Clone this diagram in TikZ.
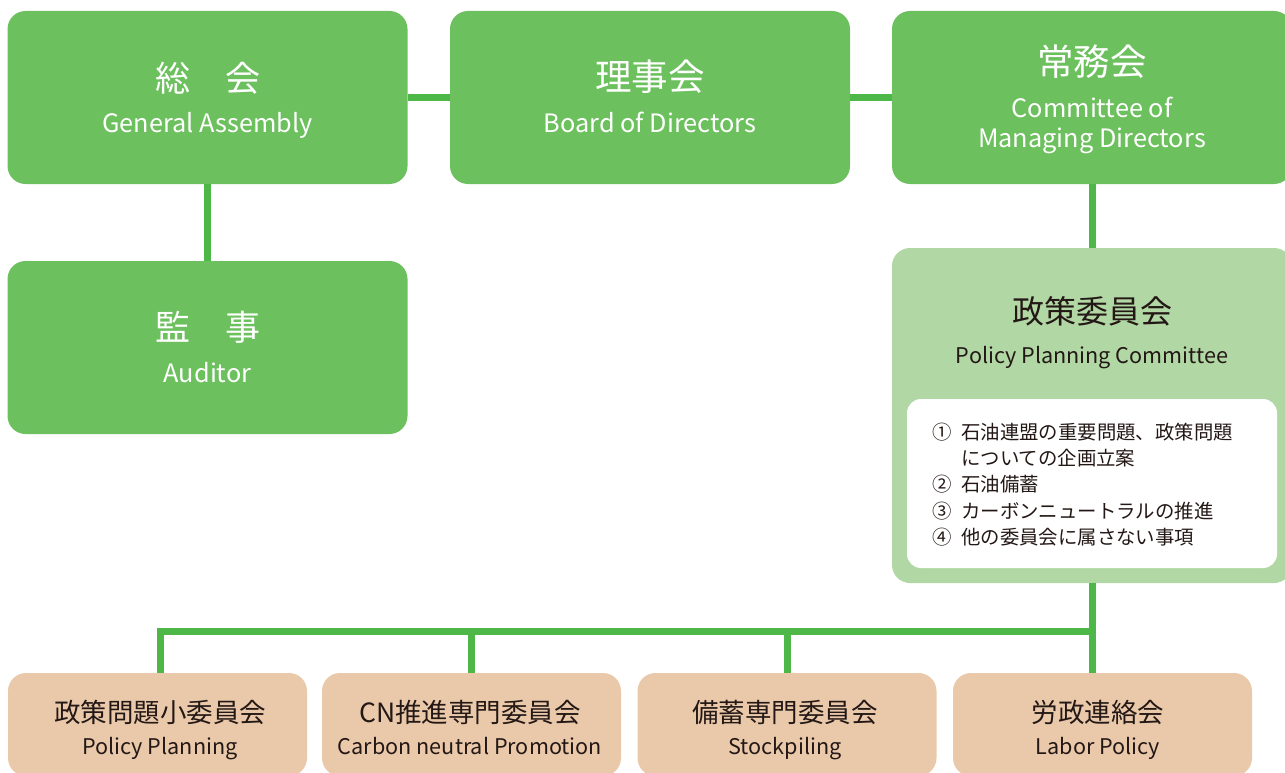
\documentclass[tikz,border=0pt]{standalone}
\usepackage{fontspec}
\setmainfont{Noto Sans CJK JP}
\definecolor{boxgreen}{RGB}{108,192,93}
\definecolor{linegreen}{RGB}{77,184,72}
\definecolor{palegreen}{RGB}{177,216,164}
\definecolor{beige}{RGB}{234,201,170}
\definecolor{textdark}{RGB}{35,24,21}
\begin{document}
\begin{tikzpicture}[x=1pt,y=-1pt]

    \tikzset{topbox/.style={fill=boxgreen,rounded corners=18pt,minimum width=400pt,minimum height=173pt,inner sep=0pt}}
    \tikzset{ppcbox/.style={fill=palegreen,rounded corners=18pt,minimum width=400pt,minimum height=335pt,inner sep=0pt}}
    \tikzset{listbox/.style={fill=white,rounded corners=14pt,minimum width=370pt,minimum height=169pt,inner sep=0pt}}
    \tikzset{subbox/.style={fill=beige,rounded corners=18pt,minimum width=299pt,minimum height=103pt,inner sep=0pt}}
    \tikzset{link/.style={draw=linegreen,line width=7pt}}
    \tikzset{jptop/.style={text=white,font=\fontsize{35}{40}\selectfont,inner sep=0pt}}
    \tikzset{jptopwide/.style={jptop,font=\fontsize{36.5}{42}\selectfont}}
    \tikzset{entop/.style={text=white,font=\fontsize{25.3}{30}\selectfont,inner sep=0pt,anchor=base}}
    \tikzset{jpdark/.style={text=textdark,font=\fontsize{32}{38}\selectfont,inner sep=0pt}}
    \tikzset{jpsub/.style={text=textdark,font=\fontsize{26.5}{32}\selectfont,inner sep=0pt}}
    \tikzset{ensub/.style={text=textdark,font=\fontsize{21.6}{26}\selectfont,inner sep=0pt,anchor=base}}

    \useasboundingbox (0,0) rectangle (1285,773);

    % boxes
    \node[topbox] (ga) at (207.5, 97.5) {};
    \node[topbox] (bod) at (650, 97.5) {};
    \node[topbox] (cmd) at (1092, 97.5) {};
    \node[topbox] (aud) at (207.5, 347.5) {};
    \node[ppcbox] (ppc) at (1092, 415.5) {};
    \node[listbox] (duties) at (1092, 483.5) {};

    \node[subbox] (sub1) at (157.5, 724.5) {};
    \node[subbox] (sub2) at (471.5, 724.5) {};
    \node[subbox] (sub3) at (787, 724.5) {};
    \node[subbox] (sub4) at (1102.5, 724.5) {};

    % texts
    \node[jptop] (gajp) at (207.5, 78) {総　会};
    \node[entop] (gaen) at (207.5, 133) {General Assembly};
    \node[jptopwide] (bodjp) at (650, 77) {理事会};
    \node[entop] (boden) at (650, 133) {Board of Directors};
    \node[jptopwide] (cmdjp) at (1092, 62) {常務会};
    \node[entop] (cmden) at (1092, 118) {Committee of};
    \node[entop] (cmden2) at (1092, 148) {Managing Directors};
    \node[jptop] (audjp) at (207.5, 327) {監　事};
    \node[entop] (auden) at (207.5, 382) {Auditor};

    \node[jpdark] (ppcjp) at (1092, 311) {政策委員会};
    \node[ensub] (ppcen) at (1092, 363) {Policy Planning Committee};
    \node[text=textdark,font=\fontsize{19.4}{26.3}\selectfont,inner sep=0pt,align=left,anchor=west] (dutylist) at (932, 484.5)
        {①\hspace{0.5em}石油連盟の重要問題、政策問題\\
         \hspace{1.5em}についての企画立案\\
         ②\hspace{0.5em}石油備蓄\\
         ③\hspace{0.5em}カーボンニュートラルの推進\\
         ④\hspace{0.5em}他の委員会に属さない事項};

    \node[jpsub] (sub1jp) at (160, 712) {政策問題小委員会};
    \node[ensub] (sub1en) at (160, 754) {Policy Planning};
    \node[jpsub] (sub2jp) at (470, 712) {CN推進専門委員会};
    \node[ensub] (sub2en) at (470, 754) {Carbon neutral Promotion};
    \node[jpsub] (sub3jp) at (785, 712) {備蓄専門委員会};
    \node[ensub] (sub3en) at (785, 754) {Stockpiling};
    \node[jpsub] (sub4jp) at (1098, 712) {労政連絡会};
    \node[ensub] (sub4en) at (1098, 754) {Labor Policy};

    % links
    \draw[link] (ga) -- (bod);
    \draw[link] (bod) -- (cmd);
    \draw[link] (ga) -- (aud);
    \draw[link] (cmd) -- (ppc);

    \coordinate (bus) at (1092, 631);
    \draw[link] (ppc.south) -- (bus);
    \draw[link] (bus) -| ([xshift=3pt]sub1.north);
    \draw[link] (bus -| sub2.north) -- (sub2.north);
    \draw[link] (bus -| sub3.north) -- (sub3.north);
    \draw[link] (bus) -- (bus |- sub4.north);

\end{tikzpicture}
\end{document}
